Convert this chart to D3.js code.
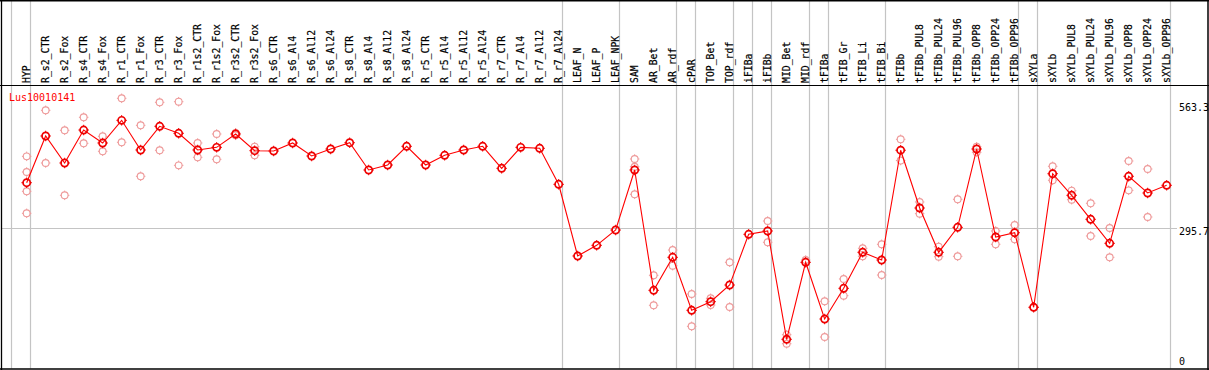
<!DOCTYPE html>
<html>
<head>
<meta charset="utf-8">
<script src="https://cdn.jsdelivr.net/npm/d3@7"></script>
<style>
  html, body { margin: 0; padding: 0; background: #fff; }
  svg { display: block; }
</style>
</head>
<body>
<svg id="chart" width="1209" height="370"></svg>
<script>
const categories = ["HYP","R_s2_CTR","R_s2_Fox","R_s4_CTR","R_s4_Fox","R_r1_CTR","R_r1_Fox","R_r3_CTR","R_r3_Fox",
  "R_r1s2_CTR","R_r1s2_Fox","R_r3s2_CTR","R_r3s2_Fox","R_s6_CTR","R_s6_Al4","R_s6_Al12","R_s6_Al24",
  "R_s8_CTR","R_s8_Al4","R_s8_Al12","R_s8_Al24","R_r5_CTR","R_r5_Al4","R_r5_Al12","R_r5_Al24",
  "R_r7_CTR","R_r7_Al4","R_r7_Al12","R_r7_Al24","LEAF_N","LEAF_P","LEAF_NPK","SAM","AR_Bet","AR_rdf",
  "cPAR","TOP_Bet","TOP_rdf","iFIBa","iFIBb","MID_Bet","MID_rdf","tFIBa","tFIB_Gr","tFIB_Li","tFIB_Bi",
  "tFIBb","tFIBb_PUL8","tFIBb_PUL24","tFIBb_PUL96","tFIBb_OPP8","tFIBb_OPP24","tFIBb_OPP96","sXYLa",
  "sXYLb","sXYLb_PUL8","sXYLb_PUL24","sXYLb_PUL96","sXYLb_OPP8","sXYLb_OPP24","sXYLb_OPP96"];

const meanValues = [393.4,493.6,435.7,506.4,478.6,527.2,463.6,514.4,499.4,
  463.6,469.3,497.9,462.1,461.4,478.6,450.7,465.7,
  479.2,420.7,431.4,471.5,431.4,452.2,463.6,471.5,
  424.3,469.3,467.2,390.0,236.3,259.2,292.0,420.7,162.7,233.5,
  119.9,138.3,174.1,282.8,289.9,57.7,222.8,101.2,167.0,244.2,227.7,
  463.1,339.2,244.2,297.8,465.7,277.0,286.2,126.3,
  412.7,366.4,315.0,263.5,407.2,371.4,387.9];

const replicateValues = [
  [450.0,416.4,375.0,327.8],[548.7,435.7],[505.8,366.4],[533.7,477.9],[492.9,460.8],[574.4,480.1],[516.5,407.2],[565.8,462.9],[567.1,430.7],
  [478.6,447.9],[497.9,443.6],[500.0,495.0],[470.6,452.2],[],[],[],[],
  [],[],[],[],[],[],[],[],
  [],[],[],[],[],[],[],[444.3,427.7,368.6],[194.9,130.6],[249.1,215.5],
  [154.8,85.5],[145.6,131.2],[222.8,126.9],[],[311.3,265.7],[67.5,48.2],[227.7],[139.2,62.6],[187.0,151.2],[252.8,235.6],[261.4,195.5],
  [486.5,441.0],[352.1,327.0],[256.2,234.8],[357.9,235.6],[470.6,458.6],[289.9,261.4],[302.7,272.1],[126.3,126.3],
  [428.6,398.6],[376.3,357.0],[349.3,279.2],[296.3,233.5],[440.0,377.1],[422.8,319.9],[]
];

const groupEnds = ["HYP","R_r7_Al24","LEAF_NPK","AR_rdf","cPAR","TOP_rdf","iFIBa","iFIBb","MID_rdf","tFIBa","tFIB_Bi","tFIBb_OPP96","sXYLa","sXYLb_OPP96"];
const tickValues = [0, 295.7, 563.3];
const geneName = "Lus10010141";

const W = 1209, H = 370;
const headerBottom = 85.5, plotBottom = 368.5;
const svg = d3.select("#chart");
svg.append("rect").attr("width", W).attr("height", H).attr("fill", "#fff");

const x = d3.scaleBand().domain(categories).range([11.33, 11.33 + 19 * categories.length]).padding(0);
const px = c => x(c) + 15.33;
const y = d3.scaleLinear().domain([0, 600.8]).range([366.2, 86]);

const font = "'DejaVu Sans Mono', 'Liberation Mono', monospace";

// vertical group separators
const sepX = [x(categories[0])].concat(groupEnds.map(c => x(c) + x.bandwidth()));
svg.append("g").selectAll("line").data(sepX).join("line")
  .attr("x1", d => Math.round(d) + 0.5).attr("x2", d => Math.round(d) + 0.5)
  .attr("y1", 0).attr("y2", plotBottom)
  .attr("stroke", "#c4c4c4").attr("stroke-width", 1.2);

// horizontal gridline (middle tick)
svg.append("line")
  .attr("x1", 2).attr("x2", 1177)
  .attr("y1", Math.round(y(tickValues[1])) + 0.5).attr("y2", Math.round(y(tickValues[1])) + 0.5)
  .attr("stroke", "#c4c4c4").attr("stroke-width", 1.2);

// frame
svg.append("line").attr("x1", 0).attr("x2", W).attr("y1", 0.75).attr("y2", 0.75).attr("stroke", "#000").attr("stroke-width", 1.5);
svg.append("line").attr("x1", 0).attr("x2", W).attr("y1", headerBottom).attr("y2", headerBottom).attr("stroke", "#000").attr("stroke-width", 1.2);
svg.append("line").attr("x1", 0).attr("x2", W).attr("y1", plotBottom + 0.5).attr("y2", plotBottom + 0.5).attr("stroke", "#000").attr("stroke-width", 1.6);
svg.append("line").attr("x1", 1.5).attr("x2", 1.5).attr("y1", 0).attr("y2", H).attr("stroke", "#000").attr("stroke-width", 1.3);
svg.append("line").attr("x1", 1208).attr("x2", 1208).attr("y1", 0).attr("y2", H).attr("stroke", "#000").attr("stroke-width", 1.5);

// header labels
svg.append("g").selectAll("text").data(categories).join("text")
  .attr("transform", c => `translate(${px(c) + 3},83) rotate(-90)`)
  .attr("text-anchor", "start")
  .attr("font-family", font).attr("font-size", "9.8px").attr("fill", "#000")
  .attr("stroke", "#000").attr("stroke-width", 0.2)
  .text(c => c);

// y axis labels (right)
svg.append("g").selectAll("text").data(tickValues).join("text")
  .attr("x", 1179)
  .attr("y", v => Math.min(y(v), 358))
  .attr("dominant-baseline", "hanging")
  .attr("font-family", font).attr("font-size", "10px").attr("fill", "#000")
  .text(v => v === 0 ? "0" : v.toFixed(1));

// gene label
svg.append("text").attr("x", 9).attr("y", 100.5)
  .attr("font-family", font).attr("font-size", "10px").attr("fill", "#ff0000")
  .text(geneName);

function marker(g, cx, cy, r, color, sw) {
  g.append("circle").attr("cx", cx).attr("cy", cy).attr("r", r)
    .attr("fill", "none").attr("stroke", color).attr("stroke-width", sw);
  const t = r + sw / 2 + 0.8;
  const i = r;
  g.append("path")
    .attr("d", `M${cx},${cy - t}V${cy - i}M${cx},${cy + i}V${cy + t}M${cx - t},${cy}H${cx - i}M${cx + i},${cy}H${cx + t}`)
    .attr("stroke", color).attr("stroke-width", 1).attr("fill", "none");
}

// replicates
const repG = svg.append("g");
categories.forEach((c, i) => {
  replicateValues[i].forEach(v => marker(repG, px(c), y(v), 3.4, "#ee9a9a", 1.1));
});

// mean line
const line = d3.line().x((d, i) => px(categories[i])).y(d => y(d));
svg.append("path").datum(meanValues).attr("d", line)
  .attr("fill", "none").attr("stroke", "#ff0000").attr("stroke-width", 1.1);

// mean markers
const mG = svg.append("g");
categories.forEach((c, i) => marker(mG, px(c), y(meanValues[i]), 3.6, "#ee0000", 1.7));
</script>
</body>
</html>
